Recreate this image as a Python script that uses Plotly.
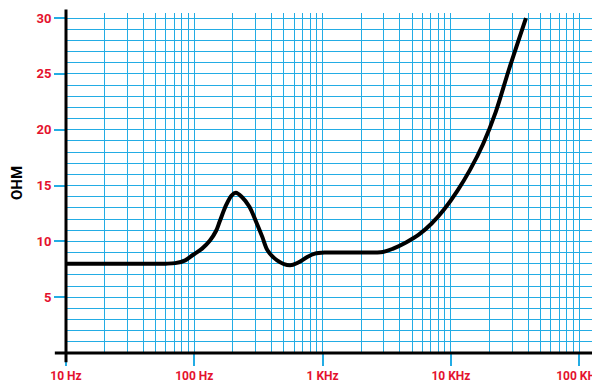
import plotly.graph_objects as go

# impedance curve
freq_hz = [10, 20, 40, 60, 71, 85, 98, 115, 132, 148, 158, 178, 195, 211, 234, 269,
           302, 339, 372, 442, 557, 646, 759, 871, 1050, 1800, 2950, 3550, 4470,
           5620, 7080, 8910, 11200, 14100, 17800, 22400, 28200, 38500]
ohm = [8.0, 8.0, 8.0, 8.0, 8.05, 8.3, 8.8, 9.35, 10.05, 10.95, 11.8, 13.3, 14.1,
       14.35, 14.0, 13.1, 11.8, 10.4, 9.2, 8.3, 7.85, 8.1, 8.6, 8.9, 9.0, 9.0, 9.05,
       9.35, 9.9, 10.6, 11.6, 12.9, 14.5, 16.4, 18.7, 21.6, 25.3, 30.0]

x_tickvals = [10, 100, 1000, 10000, 100000]
x_ticktext = ['10 Hz', '100 Hz', '1 KHz', '10 KHz', '100 KHz']
y_tickvals = [5, 10, 15, 20, 25, 30]

grid_col = '#23ace4'
red = '#e4122e'
font_fam = 'Roboto, Liberation Sans, Arial, sans-serif'

x_minor = [k * 10 ** d for d in range(1, 6) for k in range(2, 10)]

fig = go.Figure()
fig.add_trace(go.Scatter(
    x=freq_hz, y=ohm, mode='lines',
    line=dict(color='black', width=4, shape='spline', smoothing=0.9),
    showlegend=False, hoverinfo='skip'
))

# page body has an 8px margin, so the figure is 8px smaller than the window
fig.update_layout(
    width=592, height=376,
    paper_bgcolor='white', plot_bgcolor='white',
    margin=dict(l=58, r=2, t=5, b=31),
    xaxis=dict(
        type='log', range=[1, 5.147], automargin=False,
        tickmode='array', tickvals=x_tickvals, ticktext=x_ticktext,
        ticks='outside', ticklen=12, tickwidth=1.5, tickcolor=grid_col,
        tickfont=dict(family=font_fam, size=12, color=red, weight='bold'),
        ticklabeloverflow='allow',
        showgrid=True, gridcolor=grid_col, gridwidth=1.3,
        minor=dict(tickmode='array', tickvals=x_minor, showgrid=True,
                   gridcolor=grid_col, gridwidth=1.3, ticks=''),
        showline=False, zeroline=False
    ),
    yaxis=dict(
        range=[0, 30.45], automargin=False,
        tickmode='array', tickvals=y_tickvals,
        ticks='outside', ticklen=11, tickwidth=1.5, tickcolor=grid_col,
        tickfont=dict(family=font_fam, size=13, color=red, weight='bold'),
        showgrid=True, gridcolor=grid_col, gridwidth=1.3,
        minor=dict(dtick=1, showgrid=True, gridcolor=grid_col, gridwidth=1.3, ticks=''),
        showline=False, zeroline=False,
        title=dict(text='OHM', standoff=16,
                   font=dict(family=font_fam, size=15, color='black', weight='bold'))
    ),
    shapes=[
        dict(type='line', xref='paper', yref='paper', x0=0, x1=0, y0=-0.027, y1=1.01,
             line=dict(color='black', width=3)),
        dict(type='line', xref='paper', yref='paper', x0=-0.021, x1=1, y0=0, y1=0,
             line=dict(color='black', width=3)),
    ]
)

fig.write_html("out.html")
